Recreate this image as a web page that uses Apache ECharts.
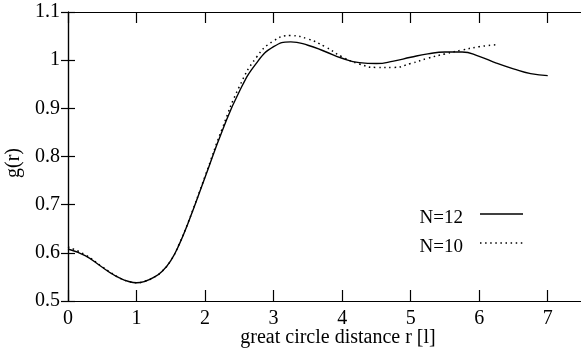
<!DOCTYPE html>
<html>
<head>
<meta charset="utf-8">
<script src="https://cdn.jsdelivr.net/npm/echarts@6/dist/echarts.min.js"></script>
<style>
  html, body { margin: 0; padding: 0; background: #fff; }
  #chart { width: 581px; height: 354px; }
</style>
</head>
<body>
<div id="chart"></div>
<script>
// Pair correlation g(r) versus great circle distance r, for two system sizes.
const rN12 = [0, 0.25, 0.5, 0.625, 0.75, 0.875, 1.0, 1.125, 1.25, 1.375, 1.5, 1.625, 1.75, 2.0, 2.25, 2.5, 2.75, 3.0, 3.25, 3.5,
              3.75, 4.0, 4.25, 4.5, 4.75, 5.0, 5.25, 5.5, 5.75, 6.0, 6.25, 6.5, 6.75, 7.0];
const gN12 = [0.608, 0.594, 0.570, 0.558, 0.548, 0.541, 0.538, 0.541, 0.549, 0.562, 0.584, 0.618, 0.661, 0.757, 0.853, 0.935, 0.994, 1.028, 1.038, 1.031,
              1.018, 1.004, 0.995, 0.993, 0.998, 1.006, 1.013, 1.017, 1.017, 1.008, 0.994, 0.982, 0.972, 0.968];

const rN10 = [0, 0.25, 0.5, 0.625, 0.75, 0.875, 1.0, 1.125, 1.25, 1.375, 1.5, 1.625, 1.75, 2.0, 2.25, 2.5, 2.75, 3.0, 3.25, 3.5,
              3.75, 4.0, 4.25, 4.5, 4.75, 5.0, 5.25, 5.5, 5.75, 6.0, 6.25];
const gN10 = [0.612, 0.596, 0.571, 0.559, 0.548, 0.541, 0.538, 0.541, 0.549, 0.562, 0.584, 0.619, 0.662, 0.759, 0.858, 0.945, 1.006, 1.040, 1.051, 1.044,
              1.028, 1.007, 0.992, 0.985, 0.985, 0.993, 1.004, 1.013, 1.021, 1.028, 1.032];

const seriesNames = ['N=12', 'N=10'];
const xLabelTitle = 'great circle distance r [l]';
const yLabelTitle = 'g(r)';

const FONT = "'Liberation Serif', 'Times New Roman', serif";
const INK = '#000';

const pairs = (xs, ys) => xs.map((x, i) => [x, ys[i]]);

const frameLine = { show: true, lineStyle: { color: INK, width: 1.2 } };
const solidStyle = { color: INK, width: 1.4 };
const dottedStyle = { color: INK, width: 1.5, type: [1.5, 3.6], cap: 'butt' };

const chart = echarts.init(document.getElementById('chart'), null, { renderer: 'canvas' });

// Key: label text right-aligned, followed by a short sample of the line style.
function keyEntry(name, cy, style) {
  return [
    {
      type: 'text', x: 463, y: cy + 4.5,
      style: { text: name, font: '19px ' + FONT, fill: INK, align: 'right', verticalAlign: 'middle' }
    },
    {
      type: 'line', shape: { x1: 480, y1: cy, x2: 523, y2: cy },
      style: { stroke: INK, lineWidth: style.width, lineDash: style.type || null }
    }
  ];
}

chart.setOption({
  animation: false,
  backgroundColor: '#fff',
  grid: { left: 68, top: 12, width: 514, height: 289, containLabel: false, outerBoundsMode: 'none' },
  xAxis: [
    {
      type: 'value', position: 'bottom', min: 0, max: 7.5, interval: 1,
      axisLine: frameLine,
      axisTick: { show: true, inside: true, length: 11, lineStyle: { color: INK, width: 1.2 } },
      axisLabel: {
        color: INK, fontFamily: FONT, fontSize: 20, margin: 8,
        formatter: v => (Number.isInteger(v) ? String(v) : '')
      },
      splitLine: { show: false }
    },
    {
      type: 'value', position: 'top', min: 0, max: 7.5, interval: 1,
      axisLine: frameLine,
      axisTick: { show: true, inside: true, length: 11, lineStyle: { color: INK, width: 1.2 } },
      axisLabel: { show: false },
      splitLine: { show: false }
    }
  ],
  yAxis: [
    {
      type: 'value', position: 'left', min: 0.5, max: 1.1, interval: 0.1,
      axisLine: frameLine,
      axisTick: { show: true, inside: true, length: 7, lineStyle: { color: INK, width: 1.2 } },
      axisLabel: {
        color: INK, fontFamily: FONT, fontSize: 20, margin: 8,
        formatter: v => String(Math.round(v * 10) / 10)
      },
      splitLine: { show: false }
    },
    {
      type: 'value', position: 'right', min: 0.5, max: 1.1, interval: 0.1,
      axisLine: frameLine,
      axisTick: { show: true, inside: true, length: 7, lineStyle: { color: INK, width: 1.2 } },
      axisLabel: { show: false },
      splitLine: { show: false }
    }
  ],
  series: [
    {
      name: seriesNames[0], type: 'line', xAxisIndex: 0, yAxisIndex: 0,
      data: pairs(rN12, gN12),
      smooth: 0.5, showSymbol: false, symbol: 'none',
      lineStyle: solidStyle
    },
    {
      name: seriesNames[1], type: 'line', xAxisIndex: 0, yAxisIndex: 0,
      data: pairs(rN10, gN10),
      smooth: 0.5, showSymbol: false, symbol: 'none',
      lineStyle: dottedStyle
    }
  ],
  graphic: [
    ...keyEntry(seriesNames[0], 214, solidStyle),
    ...keyEntry(seriesNames[1], 243, dottedStyle),
    {
      type: 'text', x: 338, y: 338,
      style: { text: xLabelTitle, font: '20px ' + FONT, fill: INK, align: 'center', verticalAlign: 'middle' }
    },
    {
      type: 'text', x: 14, y: 163, rotation: Math.PI / 2,
      style: { text: yLabelTitle, font: '20px ' + FONT, fill: INK, align: 'center', verticalAlign: 'middle' }
    }
  ]
});
</script>
</body>
</html>
